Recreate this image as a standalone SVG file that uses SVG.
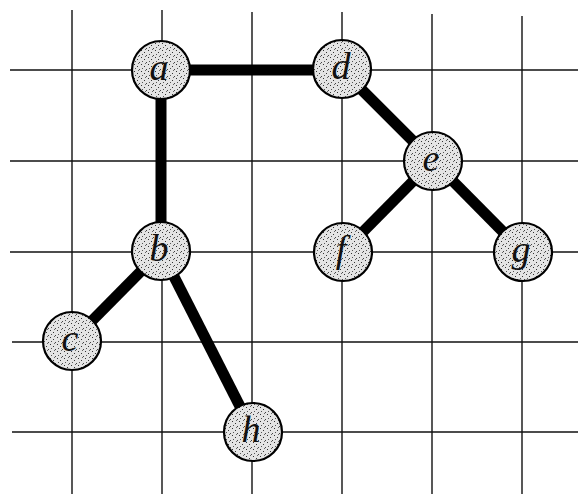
<svg xmlns="http://www.w3.org/2000/svg" width="578" height="494" viewBox="0 0 578 494">
<style>
.grid line{stroke:#111;stroke-width:1.4}
.edges line{stroke:#000;stroke-width:11;stroke-linecap:butt}
.node circle{fill:url(#stip);stroke:#000;stroke-width:2.2}
.node text{font-family:"Liberation Serif","DejaVu Serif",serif;font-style:italic;font-size:38px;fill:#111;text-anchor:middle}
</style>
<defs>
<pattern id="stip" width="7" height="7" patternUnits="userSpaceOnUse">
<rect width="7" height="7" fill="#e4e4e4"/>
<rect x="1" y="1" width="1" height="1" fill="#333"/>
<rect x="4" y="3" width="1" height="1" fill="#333"/>
<rect x="2" y="5" width="1" height="1" fill="#555"/>
<rect x="6" y="6" width="1" height="1" fill="#444"/>
<rect x="5" y="0" width="1" height="1" fill="#666"/>
</pattern>
</defs>
<rect width="578" height="494" fill="#fff"/>
<g class="grid">
<line x1="72" y1="10" x2="72" y2="494"/>
<line x1="162" y1="10" x2="162" y2="494"/>
<line x1="252" y1="12" x2="252" y2="494"/>
<line x1="342" y1="12" x2="342" y2="494"/>
<line x1="432" y1="14" x2="432" y2="494"/>
<line x1="522" y1="16" x2="522" y2="494"/>
<line x1="10" y1="70" x2="578" y2="70"/>
<line x1="10" y1="161" x2="578" y2="161"/>
<line x1="10" y1="252" x2="578" y2="252"/>
<line x1="12" y1="342" x2="578" y2="342"/>
<line x1="12" y1="432" x2="578" y2="432"/>
</g>
<g class="edges">
<line x1="161" y1="70" x2="342" y2="70"/>
<line x1="161" y1="70" x2="161" y2="251"/>
<line x1="342" y1="70" x2="433" y2="161"/>
<line x1="433" y1="161" x2="343" y2="252"/>
<line x1="433" y1="161" x2="523" y2="252"/>
<line x1="161" y1="251" x2="72" y2="341"/>
<line x1="161" y1="251" x2="253" y2="432"/>
</g>
<g id="node-a" class="node"><circle cx="161" cy="70" r="29"/><text x="159" y="80">a</text></g>
<g id="node-d" class="node"><circle cx="342" cy="69" r="29"/><text x="341" y="79">d</text></g>
<g id="node-e" class="node"><circle cx="433" cy="161" r="29"/><text x="431" y="171">e</text></g>
<g id="node-b" class="node"><circle cx="161" cy="251" r="29"/><text x="159" y="261">b</text></g>
<g id="node-f" class="node"><circle cx="343" cy="252" r="29"/><text x="341" y="262">f</text></g>
<g id="node-g" class="node"><circle cx="523" cy="252" r="29"/><text x="521" y="262">g</text></g>
<g id="node-c" class="node"><circle cx="72" cy="341" r="29"/><text x="70" y="351">c</text></g>
<g id="node-h" class="node"><circle cx="253" cy="432" r="29"/><text x="251" y="442">h</text></g>
</svg>
